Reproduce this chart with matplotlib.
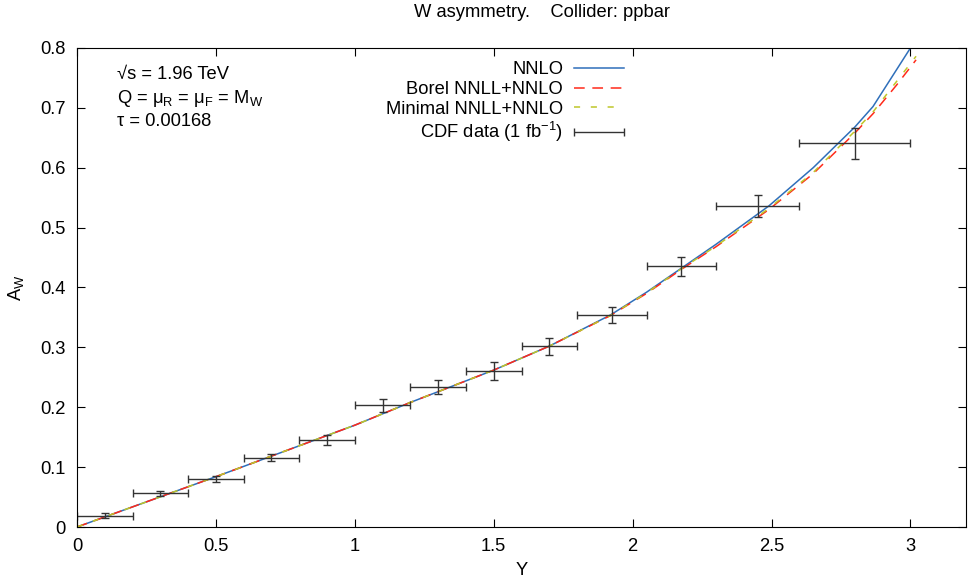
import numpy as np
import matplotlib
matplotlib.use("Agg")
import matplotlib.pyplot as plt
from matplotlib.container import ErrorbarContainer
from matplotlib.legend_handler import HandlerErrorbar

plt.rcParams['font.family'] = ['Liberation Sans', 'DejaVu Sans']
plt.rcParams['mathtext.fontset'] = 'custom'
plt.rcParams['mathtext.rm'] = 'Liberation Sans'
plt.rcParams['mathtext.it'] = 'Liberation Sans:italic'

# theory curves
nnlo_y = [0.0, 0.5, 1.0, 1.2, 1.5, 1.7, 1.92, 2.05, 2.175, 2.3, 2.49, 2.65, 2.8, 2.865, 3.0]
nnlo_a = [0.0, 0.084, 0.170, 0.208, 0.262, 0.302, 0.354, 0.392, 0.432, 0.472, 0.536, 0.600, 0.668, 0.702, 0.800]

borel_y = [0.0, 0.5, 1.0, 1.2, 1.5, 1.7, 1.92, 2.05, 2.175, 2.3, 2.49, 2.65, 2.8, 2.865, 2.95, 3.02]
borel_a = [0.0, 0.084, 0.170, 0.208, 0.262, 0.302, 0.353, 0.390, 0.430, 0.468, 0.530, 0.590, 0.658, 0.690, 0.738, 0.780]

minimal_y = [0.0, 0.5, 1.0, 1.2, 1.5, 1.7, 1.92, 2.05, 2.175, 2.3, 2.49, 2.65, 2.8, 2.865, 2.95, 3.02]
minimal_a = [0.0, 0.084, 0.170, 0.208, 0.262, 0.302, 0.353, 0.391, 0.431, 0.469, 0.532, 0.592, 0.661, 0.693, 0.744, 0.786]

# CDF data
cdf_y = [0.1, 0.3, 0.5, 0.7, 0.9, 1.1, 1.3, 1.5, 1.7, 1.925, 2.175, 2.45, 2.8]
cdf_xerr = [0.1, 0.1, 0.1, 0.1, 0.1, 0.1, 0.1, 0.1, 0.1, 0.125, 0.125, 0.15, 0.2]
cdf_a = [0.019, 0.056, 0.080, 0.116, 0.145, 0.203, 0.234, 0.261, 0.302, 0.354, 0.435, 0.536, 0.641]
cdf_err = [0.004, 0.0045, 0.005, 0.006, 0.008, 0.011, 0.012, 0.015, 0.014, 0.014, 0.016, 0.018, 0.026]

FS = 13.2

fig = plt.figure(figsize=(9.68, 5.79), dpi=100)
ax = fig.add_axes([0.0795, 0.0898, 0.9185, 0.8275])

ax.plot(nnlo_y, nnlo_a, color='#2f6fba', lw=1.1, label='NNLO')
ax.plot(borel_y, borel_a, color='#ff2a1a', lw=1.1, dashes=(7, 5), label='Borel NNLL+NNLO')
ax.plot(minimal_y, minimal_a, color='#bfc629', lw=1.1, dashes=(4, 7), label='Minimal NNLL+NNLO')

ax.errorbar(cdf_y, cdf_a, xerr=cdf_xerr, yerr=cdf_err, fmt='none',
            ecolor='#333333', elinewidth=1.0, capsize=3, capthick=1.0)
# proxy outside the view so the legend entry shows only the horizontal bar
ax.errorbar([-1.0], [-1.0], xerr=[0.1], fmt='none', ecolor='#333333', elinewidth=1.0,
            capsize=3, capthick=1.0, label='CDF data (1 fb$^{-1}$)')

ax.set_xlim(0, 3.2)
ax.set_ylim(0, 0.8)
ax.set_xticks([0, 0.5, 1, 1.5, 2, 2.5, 3])
ax.set_xticklabels(['0', '0.5', '1', '1.5', '2', '2.5', '3'])
ax.set_yticks(np.arange(0, 0.81, 0.1))
ax.set_yticklabels(['0', '0.1', '0.2', '0.3', '0.4', '0.5', '0.6', '0.7', '0.8'])
ax.tick_params(direction='in', top=True, right=True, length=6, labelsize=FS, pad=8)

ax.set_xlabel('Y', fontsize=FS, labelpad=5)
ax.set_ylabel('A$_\\mathrm{W}$', fontsize=FS, labelpad=10)
fig.suptitle('W asymmetry.    Collider: ppbar', fontsize=FS, x=0.56, y=0.993)

ax.text(0.045, 0.945, '√s = 1.96 TeV', transform=ax.transAxes, fontsize=FS, va='center')
ax.text(0.045, 0.895, 'Q = μ$_\\mathrm{R}$ = μ$_\\mathrm{F}$ = M$_\\mathrm{W}$',
        transform=ax.transAxes, fontsize=FS, va='center')
ax.text(0.045, 0.847, 'τ = 0.00168', transform=ax.transAxes, fontsize=FS, va='center')

ax.legend(loc='upper right', bbox_to_anchor=(0.623, 0.987), frameon=False,
          markerfirst=False, fontsize=FS, handlelength=2.7, labelspacing=0.14,
          handletextpad=0.6, borderaxespad=0,
          handler_map={ErrorbarContainer: HandlerErrorbar(xerr_size=1.35)})

fig.savefig('out.png', dpi=100)
